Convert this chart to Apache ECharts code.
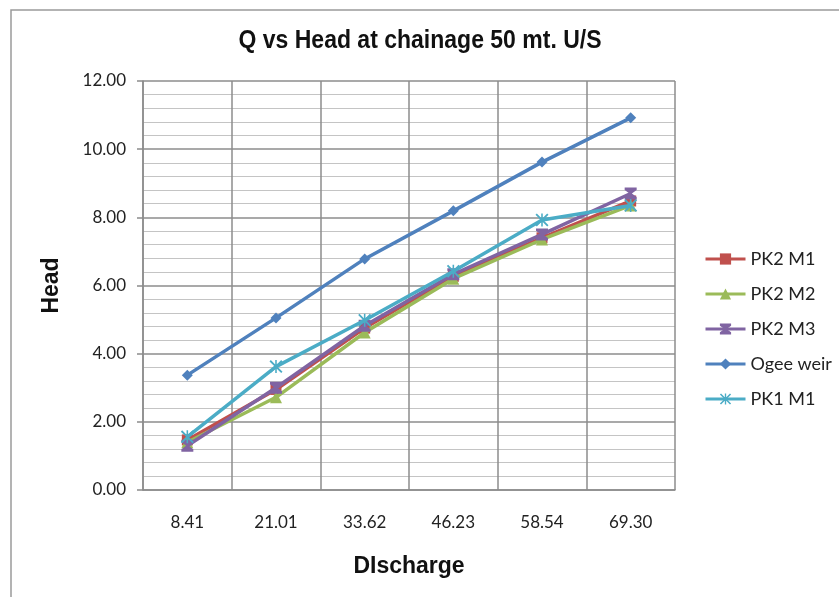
<!DOCTYPE html>
<html>
<head>
<meta charset="utf-8">
<script src="https://cdn.jsdelivr.net/npm/echarts@6/dist/echarts.min.js"></script>
<style>
  html, body { margin: 0; padding: 0; background: #ffffff; }
  #chart { width: 839px; height: 597px; }
</style>
</head>
<body>
<div id="chart"></div>
<script>
// Discharge values used as category labels
const discharge = ['8.41', '21.01', '33.62', '46.23', '58.54', '69.30'];

// Head readings per model
const pk2m1 = [1.47, 2.95, 4.75, 6.27, 7.40, 8.48];
const pk2m2 = [1.40, 2.72, 4.62, 6.20, 7.35, 8.35];
const pk2m3 = [1.30, 3.00, 4.82, 6.33, 7.50, 8.70];
const ogee  = [3.37, 5.05, 6.78, 8.19, 9.62, 10.92];
const pk1m1 = [1.56, 3.62, 4.98, 6.42, 7.92, 8.35];

const seriesNames = ['PK2 M1', 'PK2 M2', 'PK2 M3', 'Ogee weir', 'PK1 M1'];
const seriesColors = ['#C0504D', '#9BBB59', '#8064A2', '#4F81BD', '#4BACC6'];

// Marker shapes
const hourglass = 'path://M0,0 L10,0 L10,2 L6,5 L10,8 L10,10 L0,10 L0,8 L4,5 L0,2 Z';
const asterisk = 'path://M1,0 L5,4 L9,0 L10,1 L6,5 L10,9 L9,10 L5,6 L1,10 L0,9 L4,5 L0,1 Z M4.4,0 L5.6,0 L5.6,10 L4.4,10 Z';
const symbols = ['rect', 'triangle', hourglass, 'diamond', asterisk];
const symbolSizes = [11, 12, 12, 11, 13];
const values = [pk2m1, pk2m2, pk2m3, ogee, pk1m1];

const chart = echarts.init(document.getElementById('chart'), null, { renderer: 'canvas' });

const series = values.map((v, i) => ({
  name: seriesNames[i],
  type: 'line',
  data: v,
  symbol: symbols[i],
  symbolSize: symbolSizes[i],
  showAllSymbol: true,
  z: 3 + i,
  lineStyle: { width: 3.5, color: seriesColors[i] },
  itemStyle: { color: seriesColors[i] }
}));

const labelFont = 'Lato, "Open Sans", sans-serif';
const boldFont = '"Liberation Sans", Arial, sans-serif';

chart.setOption({
  animation: false,
  backgroundColor: '#ffffff',
  legend: {
    orient: 'vertical',
    left: 699,
    top: 245,
    itemGap: 17,
    itemWidth: 40,
    itemHeight: 14,
    lineStyle: { width: 3 },
    data: seriesNames,
    textStyle: { fontFamily: labelFont, fontSize: 18, color: '#222222' }
  },
  grid: { left: 143, right: 164, top: 81, bottom: 107, containLabel: false },
  xAxis: {
    type: 'category',
    data: discharge,
    boundaryGap: true,
    name: 'DIscharge',
    nameLocation: 'middle',
    nameGap: 65,
    nameTextStyle: { fontFamily: boldFont, fontWeight: 'bold', fontSize: 23, color: '#111111' },
    axisLine: { lineStyle: { color: '#8c8c8c', width: 1.5 } },
    axisTick: { show: false },
    axisLabel: { margin: 24, fontFamily: labelFont, fontSize: 17, color: '#222222' },
    splitLine: { show: true, interval: 0, lineStyle: { color: '#8c8c8c', width: 1.5 } }
  },
  yAxis: {
    type: 'value',
    min: 0,
    max: 12,
    interval: 2,
    name: 'Head',
    nameLocation: 'middle',
    nameGap: 80,
    nameRotate: 90,
    nameTextStyle: { fontFamily: boldFont, fontWeight: 'bold', fontSize: 23, color: '#111111' },
    axisLine: { show: true, lineStyle: { color: '#8c8c8c', width: 1.5 } },
    axisTick: { show: true, inside: false, length: 6, lineStyle: { color: '#8c8c8c', width: 1.5 } },
    axisLabel: {
      margin: 17,
      formatter: v => v.toFixed(2),
      fontFamily: labelFont,
      fontSize: 17,
      color: '#222222'
    },
    splitLine: { show: true, lineStyle: { color: '#8c8c8c', width: 1.5 } },
    minorTick: { show: false, splitNumber: 5 },
    minorSplitLine: { show: true, lineStyle: { color: '#c4c4c4', width: 1.2 } }
  },
  graphic: [
    {
      type: 'rect',
      shape: { x: 11, y: 10, width: 900, height: 700 },
      style: { fill: 'none', stroke: '#9a9a9a', lineWidth: 1.5 },
      silent: true,
      z: -1
    },
    {
      // chart title, slightly condensed
      type: 'text',
      x: 420,
      y: 41,
      scaleX: 0.92,
      silent: true,
      style: {
        text: 'Q vs Head at chainage 50 mt. U/S',
        font: 'bold 25px "Liberation Sans", Arial, sans-serif',
        align: 'center',
        verticalAlign: 'middle',
        fill: '#111111'
      }
    }
  ],
  series: series
});
</script>
</body>
</html>
